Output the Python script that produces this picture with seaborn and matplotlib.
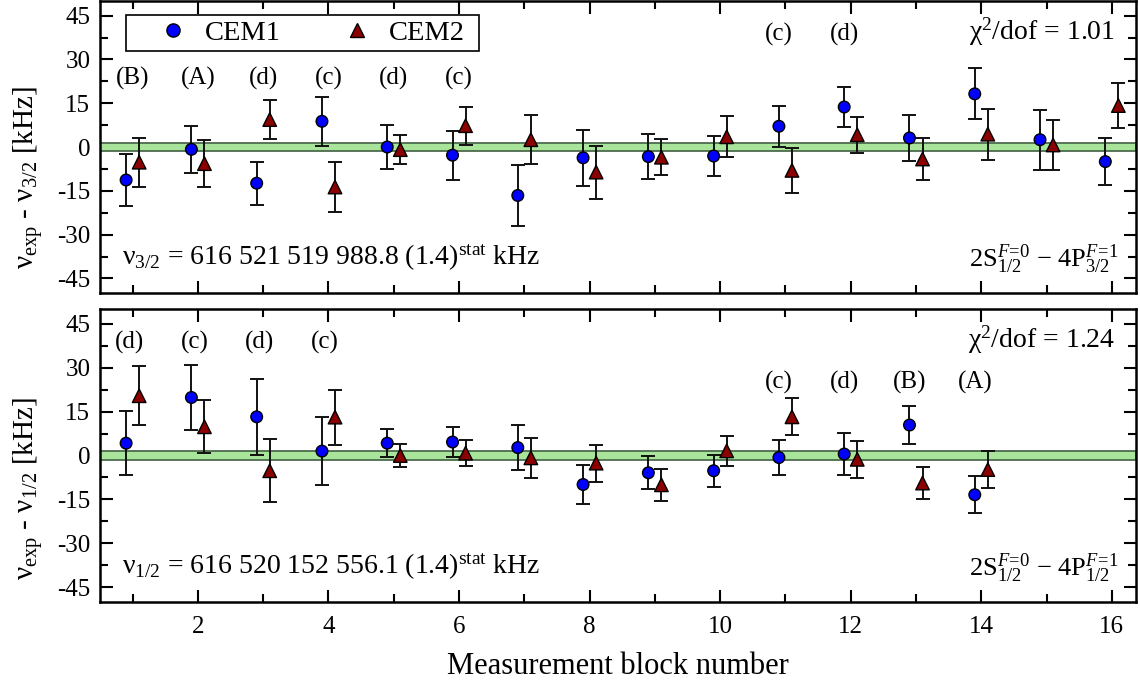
import numpy as np
import pandas as pd
import matplotlib
matplotlib.use("Agg")
import matplotlib.pyplot as plt
from matplotlib.ticker import MultipleLocator, FuncFormatter
from matplotlib.lines import Line2D
from matplotlib.patches import Rectangle
import seaborn as sns

# ---------------- data ----------------
blocks_32 = list(range(1, 17))
cem1_32 = [-11.3, -0.8, -12.4, 8.8, 0.0, -2.8, -16.6, -3.7, -3.3, -3.1, 7.1, 13.7, 3.1, 18.2, 2.5, -5.0]
cem1_32_err = [8.8, 8.1, 7.4, 8.3, 7.6, 8.4, 10.3, 9.5, 7.6, 7.0, 7.1, 6.7, 7.8, 8.7, 10.3, 8.0]
cem2_32 = [-5.2, -5.7, 9.4, -13.7, -0.9, 7.3, 2.5, -8.6, -3.5, 3.5, -8.0, 4.2, -4.1, 4.4, 0.7, 14.2]
cem2_32_err = [8.4, 8.0, 6.6, 8.7, 5.0, 6.5, 8.3, 9.1, 6.1, 7.0, 7.7, 6.2, 7.1, 8.7, 8.5, 7.6]

blocks_12 = list(range(1, 15))
cem1_12 = [4.2, 19.8, 13.2, 1.5, 4.2, 4.6, 2.7, -9.9, -5.9, -5.2, -0.7, 0.5, 10.4, -13.4]
cem1_12_err = [11.0, 11.0, 12.9, 11.6, 4.8, 5.0, 7.6, 6.8, 5.7, 5.4, 6.1, 7.1, 6.5, 6.3]
cem2_12 = [20.4, 9.8, -5.2, 13.1, 0.0, 0.8, -0.8, -2.6, -10.0, 1.6, 13.2, -1.3, -9.4, -4.8]
cem2_12_err = [10.0, 9.0, 10.8, 9.4, 4.0, 4.5, 6.8, 6.3, 5.4, 5.1, 6.3, 6.3, 5.6, 6.2]

labels_32_pos = [1, 2, 3, 4, 5, 6]
labels_32_txt = ["(B)", "(A)", "(d)", "(c)", "(d)", "(c)"]
labels_32_hi_pos = [11, 12]
labels_32_hi_txt = ["(c)", "(d)"]

labels_12_pos = [1, 2, 3, 4]
labels_12_txt = ["(d)", "(c)", "(d)", "(c)"]
labels_12_lo_pos = [11, 12, 13, 14]
labels_12_lo_txt = ["(c)", "(d)", "(B)", "(A)"]

stat_unc = 1.4
chi2_32 = "1.01"
chi2_12 = "1.24"
detectors = ["CEM1", "CEM2"]

# ---------------- style ----------------
sns.set_theme(style="ticks")
plt.rcParams["font.family"] = ["Liberation Serif", "DejaVu Serif"]
plt.rcParams["mathtext.fontset"] = "custom"
plt.rcParams["mathtext.rm"] = "Liberation Serif"
plt.rcParams["mathtext.it"] = "Liberation Serif:italic"
plt.rcParams["mathtext.bf"] = "Liberation Serif:bold"
plt.rcParams["axes.unicode_minus"] = False
plt.rcParams["text.color"] = "black"
plt.rcParams["axes.labelcolor"] = "black"
plt.rcParams["xtick.color"] = "black"
plt.rcParams["ytick.color"] = "black"

palette = {"CEM1": "#0000ff", "CEM2": "#8b0000"}
markers = {"CEM1": "o", "CEM2": "^"}
sizes = {"CEM1": 70, "CEM2": 95}
offsets = {"CEM1": -0.1, "CEM2": 0.1}

W, H = 1140, 688
fig = plt.figure(figsize=(W / 100, H / 100), dpi=100)
L, R = 100 / W, 1136 / W
ax1 = fig.add_axes([L, 1 - 293 / H, R - L, (293 - 1) / H])
ax2 = fig.add_axes([L, 1 - 602 / H, R - L, (602 - 309) / H])


def make_df(blocks, v1, e1, v2, e2):
    rows = []
    for b, v, e in zip(blocks, v1, e1):
        rows.append(dict(block=b, value=v, err=e, detector="CEM1"))
    for b, v, e in zip(blocks, v2, e2):
        rows.append(dict(block=b, value=v, err=e, detector="CEM2"))
    df = pd.DataFrame(rows)
    df["xpos"] = df["block"] + df["detector"].map(offsets)
    return df


def draw_panel(ax, df):
    ax.axhspan(-stat_unc, stat_unc, facecolor="#a8e49a", edgecolor="#4d6b4d",
               lw=1.3, zorder=1)
    for det in detectors:
        d = df[df.detector == det]
        ax.errorbar(d["xpos"], d["value"], yerr=d["err"], fmt="none",
                    ecolor="#111111", elinewidth=1.4, capsize=5, capthick=1.4,
                    zorder=2)
    sns.scatterplot(data=df, x="xpos", y="value", hue="detector", style="detector",
                    size="detector", sizes=sizes, markers=markers, palette=palette,
                    edgecolor="black", linewidth=1.0, ax=ax, zorder=3, legend=False)
    ax.set_xlim(0.5, 16.37)
    ax.set_ylim(-50, 50)
    ax.yaxis.set_major_locator(MultipleLocator(15))
    ax.yaxis.set_minor_locator(MultipleLocator(7.5))
    ax.xaxis.set_major_locator(MultipleLocator(2))
    ax.xaxis.set_minor_locator(MultipleLocator(1))
    ax.tick_params(which="both", direction="in", top=True, right=True,
                   labelsize=18, width=1.5, color="black", labelcolor="black")
    ax.tick_params(which="major", length=9)
    ax.tick_params(which="minor", length=5.5)
    ax.tick_params(axis="y", pad=7)
    for s in ax.spines.values():
        s.set_linewidth(1.8)
        s.set_color("black")
    ax.set_xlabel("")


df32 = make_df(blocks_32, cem1_32, cem1_32_err, cem2_32, cem2_32_err)
df12 = make_df(blocks_12, cem1_12, cem1_12_err, cem2_12, cem2_12_err)
draw_panel(ax1, df32)
draw_panel(ax2, df12)

ax1.tick_params(labelbottom=False)
ax2.xaxis.set_major_formatter(FuncFormatter(lambda v, p: f"{int(v)}"))
ax2.tick_params(axis="x", pad=10)

ax1.set_ylabel(r"ν$_{\rm exp}$ - ν$_{3/2}$ [kHz]", fontsize=21, color="black")
ax2.set_ylabel(r"ν$_{\rm exp}$ - ν$_{1/2}$ [kHz]", fontsize=21, color="black")
ax1.yaxis.set_label_coords(-0.053, 0.394)
ax2.yaxis.set_label_coords(-0.053, 0.389)
fig.text(0.5 * (L + R), 1 - 667 / H, "Measurement block number", ha="center",
         va="center", fontsize=22, color="black")

# annotations
ann_fs = 18
for p, t in zip(labels_32_pos, labels_32_txt):
    ax1.text(p, 23.5, t, ha="center", va="center", fontsize=ann_fs, color="black")
for p, t in zip(labels_32_hi_pos, labels_32_hi_txt):
    ax1.text(p - 0.1, 38.5, t, ha="center", va="center", fontsize=ann_fs, color="black")
for p, t in zip(labels_12_pos, labels_12_txt):
    ax2.text(p - 0.05, 38.5, t, ha="center", va="center", fontsize=ann_fs, color="black")
for p, t in zip(labels_12_lo_pos, labels_12_lo_txt):
    ax2.text(p - 0.1, 24.8, t, ha="center", va="center", fontsize=ann_fs, color="black")

ax1.text(0.98, 0.895, r"χ$^2$/dof = " + chi2_32, transform=ax1.transAxes,
         ha="right", va="center", fontsize=20, color="black")
ax2.text(0.98, 0.895, r"χ$^2$/dof = " + chi2_12, transform=ax2.transAxes,
         ha="right", va="center", fontsize=20, color="black")

ax1.text(0.021, 0.12, r"ν$_{3/2}$ = 616 521 519 988.8 (1.4)$^{\rm stat}$ kHz",
         transform=ax1.transAxes, ha="left", va="center", fontsize=20, color="black")
ax2.text(0.021, 0.12, r"ν$_{1/2}$ = 616 520 152 556.1 (1.4)$^{\rm stat}$ kHz",
         transform=ax2.transAxes, ha="left", va="center", fontsize=20, color="black")

ax1.text(0.983, 0.115, r"2S$_{1/2}^{F\!=\!0}$ − 4P$_{3/2}^{F\!=\!1}$",
         transform=ax1.transAxes, ha="right", va="center", fontsize=19, color="black")
ax2.text(0.983, 0.115, r"2S$_{1/2}^{F\!=\!0}$ − 4P$_{1/2}^{F\!=\!1}$",
         transform=ax2.transAxes, ha="right", va="center", fontsize=19, color="black")

# legend: frame drawn as a rectangle, entries via legend without frame
ax1.add_patch(Rectangle((0.0251, 0.8288), 0.3407, 0.1232, transform=ax1.transAxes,
                        facecolor="white", edgecolor="black", lw=1.2, zorder=4))
handles = [Line2D([], [], ls="none", marker=markers[d], markersize=9.5 if d == "CEM1" else 10.5,
                  markerfacecolor=palette[d], markeredgecolor="black", markeredgewidth=1.0)
           for d in detectors]
fs_leg = 20.5
px = fs_leg * 100 / 72
leg = ax1.legend(handles, detectors, ncol=2, loc="center left",
                 bbox_to_anchor=((156.5 - 100) / 1036, (293 - 33) / 292),
                 frameon=False, fontsize=fs_leg, borderpad=0,
                 handlelength=33 / px, handletextpad=15.5 / px,
                 columnspacing=59.5 / px, borderaxespad=0, labelcolor="black")
leg.set_zorder(5)

fig.savefig("out.png", dpi=100)
